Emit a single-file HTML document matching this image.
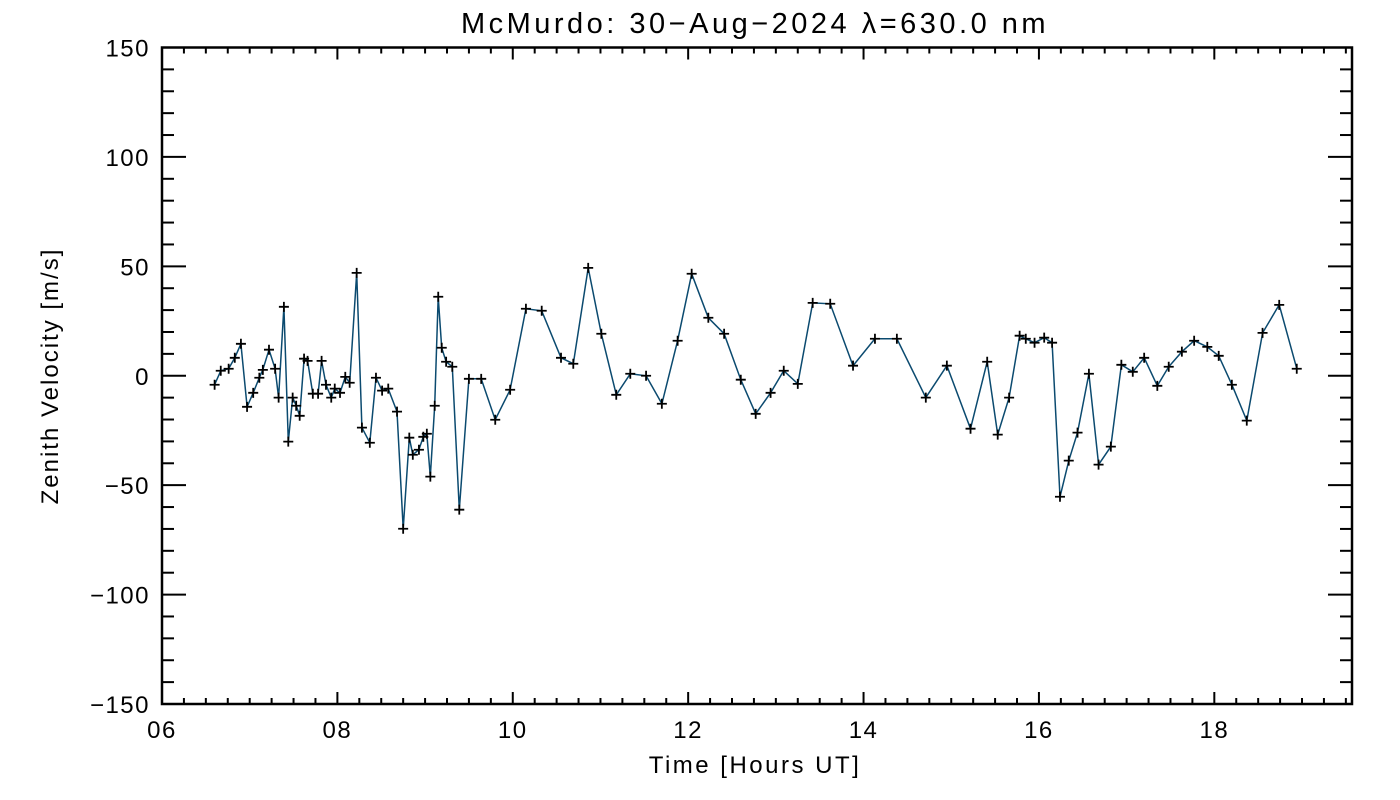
<!DOCTYPE html>
<html><head><meta charset="utf-8"><style>
html,body{margin:0;padding:0;background:#fff;}
svg{display:block;font-family:"Liberation Sans","DejaVu Sans",sans-serif;}
</style></head><body>
<svg id="chart" width="1400" height="800" viewBox="0 0 1400 800">
<rect x="0" y="0" width="1400" height="800" fill="#fff"/>
<text x="755" y="33" font-size="29" letter-spacing="3.5" text-anchor="middle">McMurdo: 30−Aug−2024 λ=630.0 nm</text>
<g id="axes"></g>
<g id="series"></g>
<text x="755" y="773" font-size="24" letter-spacing="2.5" text-anchor="middle">Time [Hours UT]</text>
<text x="0" y="0" font-size="24" letter-spacing="2" text-anchor="middle" transform="translate(58,376) rotate(-90)">Zenith Velocity [m/s]</text>
</svg>
<script>
const hours = [6.60,6.67,6.76,6.83,6.90,6.97,7.04,7.11,7.15,7.22,7.29,7.33,7.39,7.44,7.49,7.53,7.57,7.62,7.66,7.72,7.78,7.82,7.87,7.93,7.97,8.03,8.09,8.14,8.22,8.28,8.37,8.44,8.51,8.58,8.68,8.75,8.82,8.86,8.93,8.98,9.02,9.06,9.11,9.15,9.19,9.24,9.31,9.39,9.50,9.64,9.80,9.97,10.15,10.33,10.55,10.69,10.86,11.01,11.18,11.34,11.52,11.70,11.88,12.04,12.23,12.41,12.60,12.77,12.94,13.09,13.25,13.42,13.62,13.88,14.13,14.38,14.71,14.95,15.22,15.41,15.53,15.66,15.78,15.85,15.95,16.06,16.15,16.24,16.34,16.44,16.57,16.68,16.82,16.94,17.07,17.20,17.35,17.48,17.63,17.77,17.92,18.05,18.20,18.37,18.55,18.74,18.94];
const velocities = [-4.1,2.3,3.2,8.2,14.6,-14.2,-7.8,-0.9,2.7,11.9,3.2,-10.0,31.5,-30.1,-10.0,-13.7,-18.3,7.8,6.8,-8.2,-8.2,6.8,-4.1,-10.0,-5.9,-7.8,-0.5,-3.2,47.0,-23.7,-30.6,-0.9,-6.8,-5.9,-16.4,-69.9,-28.3,-36.1,-33.8,-27.9,-26.5,-46.1,-13.7,36.1,12.8,6.4,4.1,-61.2,-1.4,-1.4,-20.1,-6.4,30.6,29.7,8.2,5.5,49.3,19.2,-8.7,0.9,0.0,-12.8,16.0,46.6,26.5,19.2,-1.8,-17.4,-7.8,2.3,-3.7,33.3,32.9,4.6,16.9,16.9,-10.0,4.6,-24.2,6.4,-26.9,-10.0,18.3,16.9,15.1,17.4,15.1,-55.3,-38.8,-26.0,0.9,-40.6,-32.4,5.0,1.8,8.2,-4.6,4.1,11.0,16.0,13.2,9.1,-4.1,-20.5,19.6,32.4,3.2];
const xTickLabels = ["06","08","10","12","14","16","18"];
const yTickLabels = ["−150","−100","−50","0","50","100","150"];

const L=162,R=1352,T=47.5,B=704, X0=6, X1=19.57, Y0=-150, Y1=150;
const xs = h => L + (h - X0) / (X1 - X0) * (R - L);
const ys = v => B - (v - Y0) / (Y1 - Y0) * (B - T);
const NS="http://www.w3.org/2000/svg";
function mk(tag, attrs, parent){const e=document.createElementNS(NS,tag);for(const k in attrs)e.setAttribute(k,attrs[k]);parent.appendChild(e);return e;}
const axes=document.getElementById('axes'), series=document.getElementById('series');

const frame = mk('rect',{x:L,y:T,width:R-L,height:B-T,fill:'none',stroke:'#000','stroke-width':2.5},axes);



for(let i=0;i<=54;i++){
  const h=6+i*0.25; if(h>X1) break;
  const x=xs(h); const major=(i%8===0); const len=major?12:6;
  const t1=mk('line',{x1:x,y1:B,x2:x,y2:B-len,stroke:'#000','stroke-width':2},axes);
  
  
  const t2=mk('line',{x1:x,y1:T,x2:x,y2:T+len,stroke:'#000','stroke-width':2},axes);
  
  
}
xTickLabels.forEach((lab,i)=>{
  const t=mk('text',{x:xs(6+2*i),y:738,'font-size':24,'letter-spacing':1.5,'text-anchor':'middle'},axes);
  t.textContent=lab;
  
  
});
for(let v=-150; v<=150; v+=10){
  const y=ys(v); const major=(v%50===0); const len=major?24:12;
  const t1=mk('line',{x1:L,y1:y,x2:L+len,y2:y,stroke:'#000','stroke-width':2},axes);
  
  
  const t2=mk('line',{x1:R,y1:y,x2:R-len,y2:y,stroke:'#000','stroke-width':2},axes);
  
  
}
yTickLabels.forEach((lab,i)=>{
  const t=mk('text',{x:150,y:ys(-150+50*i)+9,'font-size':24,'letter-spacing':1.5,'text-anchor':'end'},axes);
  t.textContent=lab;
  
  
});

const pts=hours.map((h,i)=>xs(h).toFixed(1)+','+ys(velocities[i]).toFixed(1)).join(' ');
const pl=mk('polyline',{points:pts,fill:'none',stroke:'#0b4a6f','stroke-width':1.5},series);


hours.forEach((h,i)=>{
  const x=xs(h), y=ys(velocities[i]);
  const p=mk('path',{d:`M${x-5},${y}H${x+5}M${x},${y-5}V${y+5}`,stroke:'#000','stroke-width':1.8,fill:'none'},series);
  
  
});
</script>
</body></html>
